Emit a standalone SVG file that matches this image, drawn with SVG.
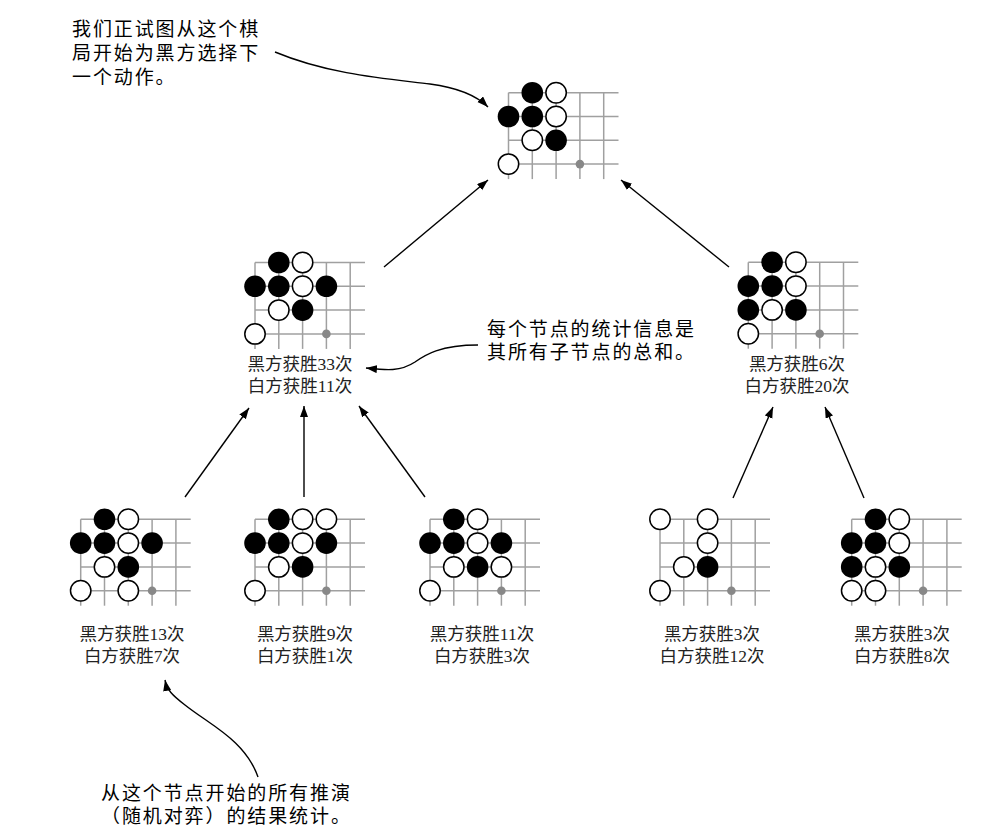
<svg xmlns="http://www.w3.org/2000/svg" xmlns:xlink="http://www.w3.org/1999/xlink" width="1000" height="832" viewBox="0 0 1000 832">
<style>
.g line{stroke:#a0a0a0;stroke-width:1.5}
.b{fill:#000}
.w{fill:#fff;stroke:#000;stroke-width:1.5}
.d{fill:#888}
.lbl{font-family:"Liberation Serif","Noto Sans CJK SC",serif;font-size:17.5px;fill:#222;text-anchor:middle}
.ann{font-family:"Liberation Sans","Noto Sans CJK SC","Noto Sans CJK JP",sans-serif;font-size:19px;letter-spacing:1.9px;fill:#000}
.conn{fill:none;stroke:#000;stroke-width:1.4}
</style>
<defs>
<marker id="ah" markerUnits="userSpaceOnUse" markerWidth="12" markerHeight="9" refX="11" refY="4" orient="auto">
<path d="M0,0 L11,4 L0,8 z" fill="#000"/>
</marker>
<g id="grid" class="g">
<line x1="0" y1="0" x2="110" y2="0"/>
<line x1="0" y1="23.8" x2="110" y2="23.8"/>
<line x1="0" y1="47.6" x2="110" y2="47.6"/>
<line x1="0" y1="71.4" x2="110" y2="71.4"/>
<line x1="0" y1="0" x2="0" y2="86.4"/>
<line x1="23.8" y1="0" x2="23.8" y2="86.4"/>
<line x1="47.6" y1="0" x2="47.6" y2="86.4"/>
<line x1="71.4" y1="0" x2="71.4" y2="86.4"/>
<line x1="95.2" y1="0" x2="95.2" y2="86.4"/>
</g>
</defs>
<rect width="1000" height="832" fill="#fff"/>

<g id="connectors">
<line class="conn" x1="384" y1="267" x2="488" y2="180" marker-end="url(#ah)"/>
<line class="conn" x1="729" y1="267" x2="621" y2="180" marker-end="url(#ah)"/>
<line class="conn" x1="185" y1="497" x2="249" y2="408" marker-end="url(#ah)"/>
<line class="conn" x1="304" y1="497" x2="304" y2="406" marker-end="url(#ah)"/>
<line class="conn" x1="425" y1="497" x2="359" y2="406" marker-end="url(#ah)"/>
<line class="conn" x1="733" y1="498" x2="773" y2="407" marker-end="url(#ah)"/>
<line class="conn" x1="864" y1="498" x2="825" y2="407" marker-end="url(#ah)"/>
<path class="conn" d="M275,52 C330,75 390,79 430,84 C460,88 478,97 488,107" marker-end="url(#ah)"/>
<path class="conn" d="M478,345 C440,345 425,355 415,362 C400,372 385,370 366,368" marker-end="url(#ah)"/>
<path class="conn" d="M258,777 C245,740 210,725 185,705 C172,695 167,690 165,680" marker-end="url(#ah)"/>
</g>

<g id="node-root" transform="translate(508.5,92.7)">
<use xlink:href="#grid"/>
<circle class="b" cx="23.8" cy="0" r="10.8"/><circle class="w" cx="47.6" cy="0" r="10.2"/>
<circle class="b" cx="0" cy="23.8" r="10.8"/><circle class="b" cx="23.8" cy="23.8" r="10.8"/><circle class="w" cx="47.6" cy="23.8" r="10.2"/>
<circle class="w" cx="23.8" cy="47.6" r="10.2"/><circle class="b" cx="47.6" cy="47.6" r="10.8"/>
<circle class="w" cx="0" cy="71.4" r="10.2"/><circle class="d" cx="71.4" cy="71.4" r="4.3"/>
</g>

<g id="node-mid-left">
<g transform="translate(255,262.5)">
<use xlink:href="#grid"/>
<circle class="b" cx="23.8" cy="0" r="10.8"/><circle class="w" cx="47.6" cy="0" r="10.2"/>
<circle class="b" cx="0" cy="23.8" r="10.8"/><circle class="b" cx="23.8" cy="23.8" r="10.8"/><circle class="w" cx="47.6" cy="23.8" r="10.2"/><circle class="b" cx="71.4" cy="23.8" r="10.8"/>
<circle class="w" cx="23.8" cy="47.6" r="10.2"/><circle class="b" cx="47.6" cy="47.6" r="10.8"/>
<circle class="w" cx="0" cy="71.4" r="10.2"/><circle class="d" cx="71.4" cy="71.4" r="4.3"/>
</g>
<text class="lbl" x="300" y="369.5">黑方获胜33次</text>
<text class="lbl" x="300" y="391.5">白方获胜11次</text>
</g>

<g id="node-mid-right">
<g transform="translate(748.3,262.3)">
<use xlink:href="#grid"/>
<circle class="b" cx="23.8" cy="0" r="10.8"/><circle class="w" cx="47.6" cy="0" r="10.2"/>
<circle class="b" cx="0" cy="23.8" r="10.8"/><circle class="b" cx="23.8" cy="23.8" r="10.8"/><circle class="w" cx="47.6" cy="23.8" r="10.2"/>
<circle class="b" cx="0" cy="47.6" r="10.8"/><circle class="w" cx="23.8" cy="47.6" r="10.2"/><circle class="b" cx="47.6" cy="47.6" r="10.8"/>
<circle class="w" cx="0" cy="71.4" r="10.2"/><circle class="d" cx="71.4" cy="71.4" r="4.3"/>
</g>
<text class="lbl" x="797" y="369.5">黑方获胜6次</text>
<text class="lbl" x="797" y="391.5">白方获胜20次</text>
</g>

<g id="node-b1">
<g transform="translate(80.7,519.3)">
<use xlink:href="#grid"/>
<circle class="b" cx="23.8" cy="0" r="10.8"/><circle class="w" cx="47.6" cy="0" r="10.2"/>
<circle class="b" cx="0" cy="23.8" r="10.8"/><circle class="b" cx="23.8" cy="23.8" r="10.8"/><circle class="w" cx="47.6" cy="23.8" r="10.2"/><circle class="b" cx="71.4" cy="23.8" r="10.8"/>
<circle class="w" cx="23.8" cy="47.6" r="10.2"/><circle class="b" cx="47.6" cy="47.6" r="10.8"/>
<circle class="w" cx="0" cy="71.4" r="10.2"/><circle class="w" cx="47.6" cy="71.4" r="10.2"/><circle class="d" cx="71.4" cy="71.4" r="4.3"/>
</g>
<text class="lbl" x="132" y="640">黑方获胜13次</text>
<text class="lbl" x="132" y="662">白方获胜7次</text>
</g>

<g id="node-b2">
<g transform="translate(255,519.3)">
<use xlink:href="#grid"/>
<circle class="b" cx="23.8" cy="0" r="10.8"/><circle class="w" cx="47.6" cy="0" r="10.2"/><circle class="w" cx="71.4" cy="0" r="10.2"/>
<circle class="b" cx="0" cy="23.8" r="10.8"/><circle class="b" cx="23.8" cy="23.8" r="10.8"/><circle class="w" cx="47.6" cy="23.8" r="10.2"/><circle class="b" cx="71.4" cy="23.8" r="10.8"/>
<circle class="w" cx="23.8" cy="47.6" r="10.2"/><circle class="b" cx="47.6" cy="47.6" r="10.8"/>
<circle class="w" cx="0" cy="71.4" r="10.2"/><circle class="d" cx="71.4" cy="71.4" r="4.3"/>
</g>
<text class="lbl" x="305" y="640">黑方获胜9次</text>
<text class="lbl" x="305" y="662">白方获胜1次</text>
</g>

<g id="node-b3">
<g transform="translate(430,519.3)">
<use xlink:href="#grid"/>
<circle class="b" cx="23.8" cy="0" r="10.8"/><circle class="w" cx="47.6" cy="0" r="10.2"/>
<circle class="b" cx="0" cy="23.8" r="10.8"/><circle class="b" cx="23.8" cy="23.8" r="10.8"/><circle class="w" cx="47.6" cy="23.8" r="10.2"/><circle class="b" cx="71.4" cy="23.8" r="10.8"/>
<circle class="w" cx="23.8" cy="47.6" r="10.2"/><circle class="b" cx="47.6" cy="47.6" r="10.8"/><circle class="w" cx="71.4" cy="47.6" r="10.2"/>
<circle class="w" cx="0" cy="71.4" r="10.2"/><circle class="d" cx="71.4" cy="71.4" r="4.3"/>
</g>
<text class="lbl" x="482" y="640">黑方获胜11次</text>
<text class="lbl" x="482" y="662">白方获胜3次</text>
</g>

<g id="node-b4">
<g transform="translate(660,519.3)">
<use xlink:href="#grid"/>
<circle class="w" cx="0" cy="0" r="10.2"/><circle class="w" cx="47.6" cy="0" r="10.2"/>
<circle class="w" cx="47.6" cy="23.8" r="10.2"/>
<circle class="w" cx="23.8" cy="47.6" r="10.2"/><circle class="b" cx="47.6" cy="47.6" r="10.8"/>
<circle class="w" cx="0" cy="71.4" r="10.2"/><circle class="d" cx="71.4" cy="71.4" r="4.3"/>
</g>
<text class="lbl" x="712" y="640">黑方获胜3次</text>
<text class="lbl" x="712" y="662">白方获胜12次</text>
</g>

<g id="node-b5">
<g transform="translate(851.7,519.3)">
<use xlink:href="#grid"/>
<circle class="b" cx="23.8" cy="0" r="10.8"/><circle class="w" cx="47.6" cy="0" r="10.2"/>
<circle class="b" cx="0" cy="23.8" r="10.8"/><circle class="b" cx="23.8" cy="23.8" r="10.8"/><circle class="w" cx="47.6" cy="23.8" r="10.2"/>
<circle class="b" cx="0" cy="47.6" r="10.8"/><circle class="w" cx="23.8" cy="47.6" r="10.2"/><circle class="b" cx="47.6" cy="47.6" r="10.8"/>
<circle class="w" cx="0" cy="71.4" r="10.2"/><circle class="w" cx="23.8" cy="71.4" r="10.2"/><circle class="d" cx="71.4" cy="71.4" r="4.3"/>
</g>
<text class="lbl" x="902" y="640">黑方获胜3次</text>
<text class="lbl" x="902" y="662">白方获胜8次</text>
</g>

<g id="note-top">
<text class="ann" x="72" y="36.3"><tspan x="72" y="36.3">我们正试图从这个棋</tspan><tspan x="72" y="60">局开始为黑方选择下</tspan><tspan x="72" y="83.7">一个动作。</tspan></text>
</g>
<g id="note-mid">
<text class="ann" x="487" y="335.7"><tspan x="487" y="335.7">每个节点的统计信息是</tspan><tspan x="487" y="359.3">其所有子节点的总和。</tspan></text>
</g>
<g id="note-bottom">
<text class="ann" x="101" y="800"><tspan x="101" y="800">从这个节点开始的所有推演</tspan><tspan x="101" y="822.7">（随机对弈）的结果统计。</tspan></text>
</g>
</svg>
